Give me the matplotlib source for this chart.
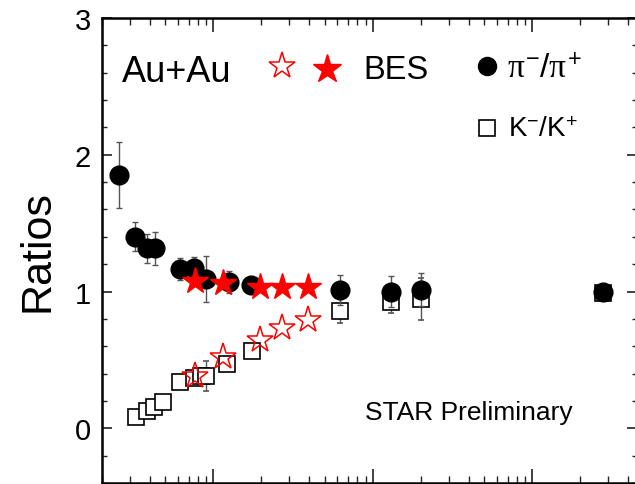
import matplotlib
matplotlib.use("Agg")
import matplotlib.pyplot as plt
from matplotlib.ticker import MultipleLocator, LogLocator, NullFormatter

plt.rcParams['font.family'] = ['Liberation Sans', 'DejaVu Sans']
plt.rcParams['mathtext.fontset'] = 'custom'
plt.rcParams['mathtext.rm'] = 'Liberation Sans'
plt.rcParams['mathtext.sf'] = 'Liberation Sans'
plt.rcParams['mathtext.it'] = 'Liberation Serif'

# ---- data (sqrt(s_NN) in GeV, ratios) ----
pi_x = [2.57, 3.23, 3.83, 4.32, 6.2, 7.6, 9.0, 12.5, 17.2, 62.4, 130, 200, 2760]
pi_y = [1.85, 1.40, 1.315, 1.315, 1.165, 1.175, 1.09, 1.07, 1.05, 1.012, 1.00, 1.012, 0.997]
pi_err = [0.24, 0.105, 0.105, 0.12, 0.08, 0.075, 0.17, 0.08, 0.02, 0.11, 0.11, 0.12, 0.0]

k_x = [3.28, 3.83, 4.26, 4.80, 6.2, 7.6, 8.4, 9.0, 12.2, 17.5, 62.4, 130, 200, 2760]
k_y = [0.086, 0.127, 0.159, 0.193, 0.339, 0.371, 0.38, 0.38, 0.468, 0.565, 0.858, 0.92, 0.944, 0.99]
k_err = [0, 0, 0, 0, 0, 0, 0, 0.11, 0, 0, 0.085, 0.08, 0.155, 0]

bes_x = [7.7, 11.5, 19.6, 27, 39]
bes_pi = [1.08, 1.06, 1.03, 1.03, 1.03]
bes_k = [0.38, 0.52, 0.645, 0.73, 0.79]

yticks = [0, 1, 2, 3]

fig = plt.figure(figsize=(6.35, 4.85), dpi=100)
L, R, T, B = 102, 637, 19, 484
ax = fig.add_axes([L / 635, 1 - B / 485, (R - L) / 635, (B - T) / 485])
ax.set_xscale('log')
ax.set_xlim(2, 4540)
ax.set_ylim(-0.4, 3)

ecol = '#555555'
STAR_MS = 20
# K-/K+ squares
ax.errorbar(k_x, k_y, yerr=k_err, fmt='s', ms=11.5, mfc='white', mec='black', mew=1.2,
            ecolor=ecol, elinewidth=1, capsize=2, zorder=2)
# pi-/pi+ circles
ax.errorbar(pi_x, pi_y, yerr=pi_err, fmt='o', ms=13.5, mfc='black', mec='black',
            ecolor=ecol, elinewidth=1, capsize=2, zorder=3)
# BES open stars (K)
ax.plot(bes_x, bes_k, '*', ms=STAR_MS, mfc='none', mec='red', mew=1.1, zorder=4)
# BES filled stars (pi)
ax.plot(bes_x, bes_pi, '*', ms=STAR_MS, mfc='red', mec='red', mew=1.0, zorder=5)

# axis styling
ax.set_yticks(yticks)
ax.yaxis.set_minor_locator(MultipleLocator(0.2))
ax.xaxis.set_major_locator(LogLocator(base=10, numticks=10))
ax.xaxis.set_minor_locator(LogLocator(base=10, subs=range(2, 10), numticks=20))
ax.xaxis.set_major_formatter(NullFormatter())
ax.xaxis.set_minor_formatter(NullFormatter())
ax.tick_params(axis='both', which='both', direction='in', top=True, right=True, colors='#222222')
ax.tick_params(axis='x', which='major', length=10, width=1.2)
ax.tick_params(axis='x', which='minor', length=5, width=1.0)
ax.tick_params(axis='y', which='major', length=7.5, width=1.2, labelsize=21, pad=8, labelcolor='black')
ax.tick_params(axis='y', which='minor', length=3.8, width=1.0)
for s in ax.spines.values():
    s.set_linewidth(1.8)
ax.set_ylabel('Ratios', fontsize=31, labelpad=12)

# legend / annotations
ax.text(0.037, 0.884, 'Au+Au', transform=ax.transAxes, fontsize=26, va='center', ha='left')
ax.plot([0.336], [0.897], '*', transform=ax.transAxes, ms=STAR_MS, mfc='none', mec='red', mew=1.1, clip_on=False)
ax.plot([0.421], [0.890], '*', transform=ax.transAxes, ms=STAR_MS + 1, mfc='red', mec='red', clip_on=False)
ax.text(0.488, 0.890, 'BES', transform=ax.transAxes, fontsize=23.5, va='center', ha='left')
ax.plot([0.720], [0.897], 'o', transform=ax.transAxes, ms=13, mfc='black', mec='black', clip_on=False)
ax.text(0.757, 0.893, r'$\mathit{\pi}^{-}/\mathit{\pi}^{+}$', transform=ax.transAxes, fontsize=24,
        va='center', ha='left')
ax.plot([0.720], [0.763], 's', transform=ax.transAxes, ms=11.5, mfc='white', mec='black', mew=1.2, clip_on=False)
ax.text(0.759, 0.761, r'K$^{-}$/K$^{+}$', transform=ax.transAxes, fontsize=20, va='center', ha='left')
ax.text(0.492, 0.153, 'STAR Preliminary', transform=ax.transAxes, fontsize=19, va='center', ha='left')

fig.savefig('out.png', dpi=100)
